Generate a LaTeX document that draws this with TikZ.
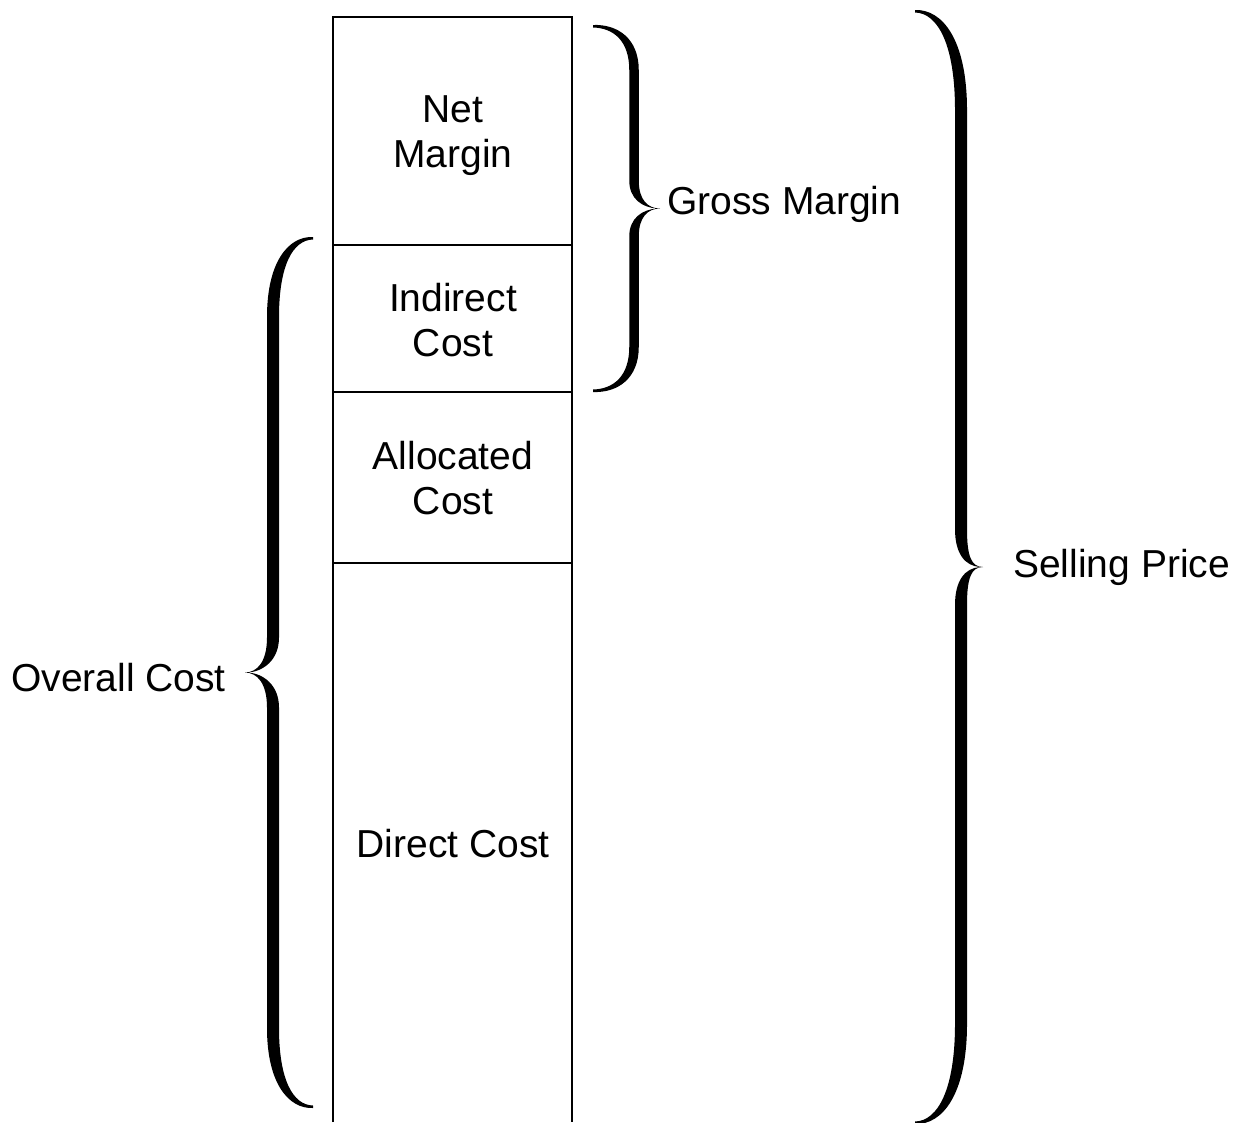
\documentclass[tikz,border=0pt]{standalone}
\usepackage{fontspec}
\setmainfont{Liberation Sans}
\newcommand\calbrace[9]{% #1 x0, #2 ytop, #3 H, #4 stem, #5 tip, #6 dir, #7 width, #8 hook, #9 tip length
  \begin{scope}[shift={(#1,#2)},xscale=#6]
    \pgfmathsetmacro\cbR{#4+#7/2}
    \pgfmathsetmacro\cbL{#4-#7/2}
    \pgfmathsetmacro\cbM{#3/2}
    \fill (0,0) .. controls (0.6*#4,-1) and (\cbR,0.3*#8) .. (\cbR,#8)
      -- (\cbR,\cbM-#9) .. controls (\cbR,\cbM-0.3*#9) and (#5-12,\cbM) .. (#5,\cbM)
      .. controls (#5-12,\cbM) and (\cbR,\cbM+0.3*#9) .. (\cbR,\cbM+#9)
      -- (\cbR,#3-#8) .. controls (\cbR,#3-0.3*#8) and (0.6*#4,#3+1) .. (0,#3)
      -- (0,#3-2.5) .. controls (0.5*#4,#3-3) and (\cbL,#3-0.35*#8) .. (\cbL,#3-#8)
      -- (\cbL,\cbM+#9) .. controls (\cbL,\cbM+0.35*#9) and (#5-18,\cbM+1) .. (#5-3,\cbM)
      .. controls (#5-18,\cbM-1) and (\cbL,\cbM-0.35*#9) .. (\cbL,\cbM-#9)
      -- (\cbL,#8) .. controls (\cbL,0.35*#8) and (0.5*#4,3) .. (0,2.5) -- cycle;
  \end{scope}}
\begin{document}
\begin{tikzpicture}[x=1pt,y=-1pt,
  lbl/.style={inner sep=0pt,font=\fontsize{39}{45}\selectfont},
  col/.style={line width=2pt,black}]
\useasboundingbox (0,0) rectangle (1241,1122);
% column
\coordinate (tl) at (333,17);
\coordinate (tr) at (572,17);
\coordinate (bl) at (333,1122);
\coordinate (br) at (572,1122);
\draw[col] (bl) -- (tl) -- (tr) -- (br);
\foreach \yy/\nm in {245/a,392/b,563/c}{
  \coordinate (L\nm) at (333,\yy);
  \coordinate (R\nm) at (572,\yy);
  \draw[col] (L\nm) -- (R\nm);
}
% texts in column
\node[lbl,anchor=base] (net1) at (453,122) {Net};
\node[lbl,anchor=base] (net2) at (453,167.5) {Margin};
\node[lbl,anchor=base] (ind1) at (453,311) {Indirect};
\node[lbl,anchor=base] (ind2) at (453,356) {Cost};
\node[lbl,anchor=base] (all1) at (453,469.5) {Allocated};
\node[lbl,anchor=base] (all2) at (453,514.5) {Cost};
\node[lbl,anchor=base] (dir) at (453,857) {Direct Cost};
% side labels
\node[lbl,anchor=base west] (gross) at (667,214.5) {Gross Margin};
\node[lbl,anchor=base west] (sell) at (1013,577.5) {Selling Price};
\node[lbl,anchor=base west] (over) at (11,691.5) {Overall Cost};
% braces
\calbrace{593}{25}{367}{41}{67}{1}{9.5}{45}{28}
\calbrace{915}{10}{1114}{46}{68}{1}{12}{100}{38}
\calbrace{313}{237}{871}{40}{68}{-1}{12}{80}{35}
\end{tikzpicture}
\end{document}
